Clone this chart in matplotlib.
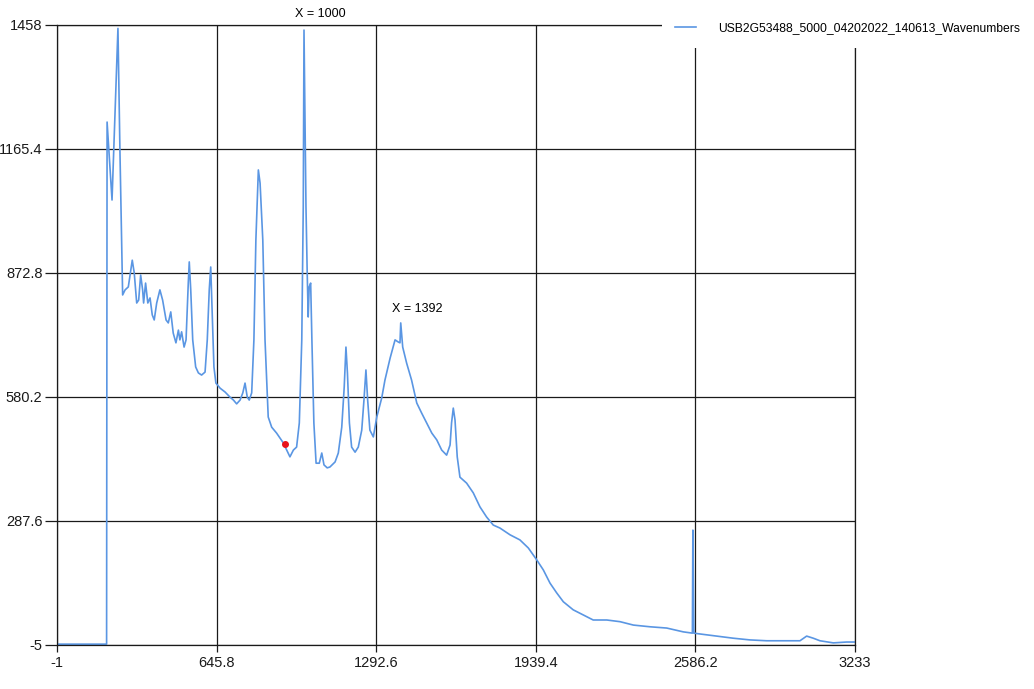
import matplotlib
matplotlib.use("Agg")
import matplotlib.pyplot as plt
from matplotlib.patches import Rectangle

# spectrum (wavenumber, counts)
wavenumber = [-1, 200, 202, 222, 246, 254, 265, 275, 288, 298, 304, 312, 322, 330, 338, 346,
              350, 358, 367, 376, 385, 393, 403, 416, 427, 441, 450, 460, 470, 481, 491, 497,
              504, 514, 522, 531, 535, 541, 549, 561, 572, 585, 599, 608, 616, 622, 627, 635,
              643, 660, 680, 700, 714, 727, 741, 752, 761, 770, 778, 788, 797, 805, 815, 822,
              833, 842, 855, 869, 889, 903, 916, 930, 943, 957, 970, 981, 991, 997, 1000, 1008,
              1013, 1017, 1021, 1027, 1032, 1040, 1049, 1062, 1072, 1081, 1094, 1105, 1126, 1139, 1153, 1163,
              1170, 1176, 1184, 1193, 1207, 1220, 1234, 1243, 1251, 1258, 1267, 1281, 1288, 1295, 1315, 1328,
              1349, 1369, 1382, 1389, 1392, 1400, 1416, 1436, 1457, 1477, 1497, 1518, 1538, 1558, 1578, 1592,
              1598, 1605, 1612, 1621, 1632, 1659, 1686, 1713, 1740, 1767, 1794, 1835, 1875, 1909, 1943, 1970,
              1997, 2024, 2051, 2091, 2132, 2172, 2227, 2281, 2335, 2402, 2470, 2537, 2571, 2574, 2576, 2580,
              2605, 2672, 2740, 2807, 2875, 2942, 3010, 3037, 3064, 3091, 3145, 3199, 3233]
counts = [-3, -3, 1229, 1045, 1450, 1163, 821, 833, 840, 880, 903, 873, 802, 809, 868, 833,
          802, 849, 802, 814, 774, 762, 802, 833, 809, 762, 755, 781, 731, 708, 738, 715,
          734, 698, 715, 849, 899, 833, 715, 651, 637, 632, 639, 715, 833, 887, 793, 651,
          613, 601, 592, 580, 573, 564, 573, 590, 613, 580, 573, 590, 715, 951, 1116, 1085,
          951, 715, 533, 509, 495, 483, 472, 455, 439, 455, 462, 519, 715, 1029, 1446, 1029,
          873, 769, 840, 849, 715, 519, 424, 424, 448, 420, 413, 415, 427, 448, 509, 604,
          698, 637, 519, 462, 450, 462, 502, 573, 644, 573, 502, 486, 509, 533, 578, 620,
          672, 715, 710, 708, 755, 698, 660, 620, 566, 542, 519, 495, 479, 455, 443, 467,
          519, 554, 526, 439, 391, 377, 354, 321, 297, 278, 271, 255, 243, 224, 196, 172,
          141, 118, 97, 78, 66, 54, 54, 50, 42, 38, 35, 26, 23, 23, 266, 23,
          21, 16, 11, 7, 5, 5, 5, 16, 11, 5, 0, 2, 2]

x_ticks = [-1, 645.8, 1292.6, 1939.4, 2586.2, 3233]
y_ticks = [-5, 287.6, 580.2, 872.8, 1165.4, 1458]
x_tick_labels = ["-1", "645.8", "1292.6", "1939.4", "2586.2", "3233"]
y_tick_labels = ["-5", "287.6", "580.2", "872.8", "1165.4", "1458"]

marker_x, marker_y = 923, 469
series_name = "USB2G53488_5000_04202022_140613_Wavenumbers"

plt.rcParams['font.family'] = ['Liberation Sans', 'DejaVu Sans']

fig = plt.figure(figsize=(10.34, 6.89), dpi=100)
ax = fig.add_axes([57 / 1034, 1 - 645 / 689, 798 / 1034, 620 / 689])

line, = ax.plot(wavenumber, counts, color='#5A96E3', linewidth=1.2, label=series_name)
ax.plot([marker_x], [marker_y], 'o', color='#E8121A', markersize=4)

ax.set_xlim(-1, 3233)
ax.set_ylim(-5, 1458)
ax.set_xticks(x_ticks)
ax.set_xticklabels(x_tick_labels)
ax.set_yticks(y_ticks)
ax.set_yticklabels(y_tick_labels)
ax.grid(True, color='#1a1a1a', linewidth=0.9)
ax.set_axisbelow(True)
for s in ax.spines.values():
    s.set_color('#1a1a1a')
    s.set_linewidth(0.9)
ax.tick_params(axis='x', length=5, width=0.9, pad=3, labelsize=10.5, colors='#1a1a1a')
ax.tick_params(axis='y', length=9, width=0.9, pad=1.5, labelsize=10.5, colors='#1a1a1a')

ax.text(1065, 1484, "X = 1000", ha='center', va='center', fontsize=9, clip_on=False)
ax.text(1458, 789, "X = 1392", ha='center', va='center', fontsize=9)

# legend area is opaque and hides the top corner of the plot
fig.patches.append(Rectangle((662 / 1034, 1 - 48 / 689), 372 / 1034, 43 / 689,
                             transform=fig.transFigure, facecolor='white',
                             edgecolor='none', zorder=5))
leg = fig.legend(handles=[line], loc='center left', bbox_to_anchor=(675 / 1034, 1 - 28 / 689),
                 frameon=False, borderaxespad=0, borderpad=0, handlelength=1.75,
                 handletextpad=1.85, fontsize=8.7)
leg.set_zorder(6)

fig.savefig("out.png", dpi=100)
